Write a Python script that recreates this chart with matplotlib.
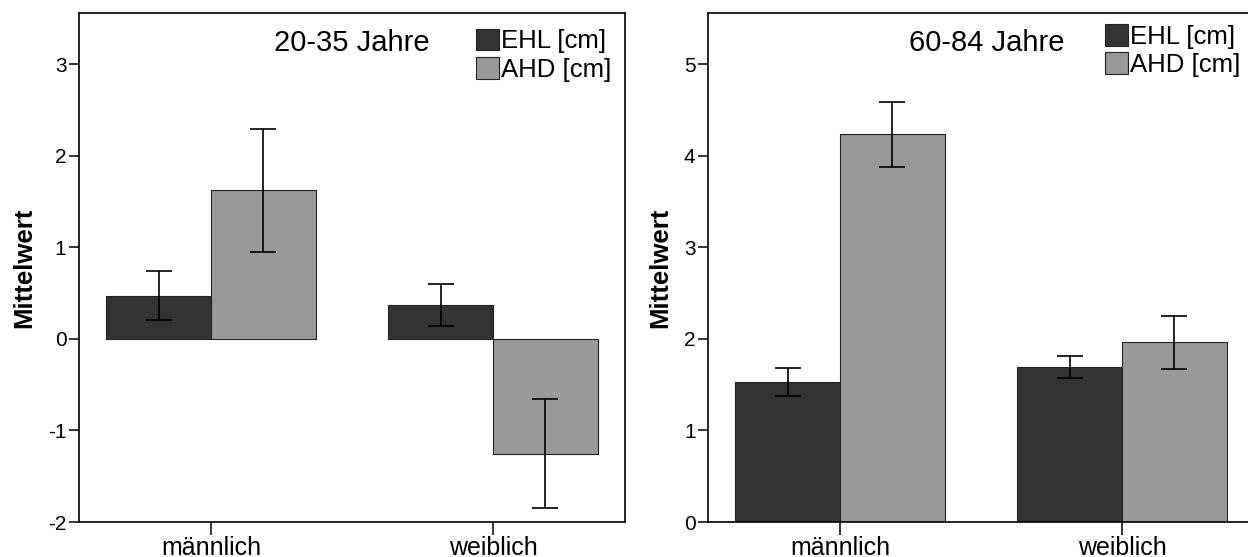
import numpy as np
import matplotlib
matplotlib.use("Agg")
import matplotlib.pyplot as plt
from matplotlib.patches import Patch

plt.rcParams['font.family'] = ['Liberation Sans', 'DejaVu Sans']
plt.rcParams['axes.unicode_minus'] = False

# --- Daten ---
gruppen = ['männlich', 'weiblich']
reihen = ['EHL [cm]', 'AHD [cm]']
farben = ['#333333', '#999999']

# 20-35 Jahre
jung_ehl = [0.47, 0.37]
jung_ehl_unten = [0.20, 0.14]
jung_ehl_oben = [0.74, 0.60]
jung_ahd = [1.62, -1.26]
jung_ahd_unten = [0.95, -1.85]
jung_ahd_oben = [2.29, -0.66]

# 60-84 Jahre
alt_ehl = [1.53, 1.69]
alt_ehl_unten = [1.38, 1.57]
alt_ehl_oben = [1.68, 1.81]
alt_ahd = [4.24, 1.96]
alt_ahd_unten = [3.88, 1.67]
alt_ahd_oben = [4.58, 2.25]


def zeichne_panel(ax, werte, unten, oben, titel, y_min, y_max, yticks,
                  titel_x, legende_y, ylabel_x):
    x = np.arange(len(gruppen))
    breite = 0.372
    versatz = [-breite / 2, breite / 2]

    for i in range(2):
        w = np.array(werte[i])
        fehler = [w - np.array(unten[i]), np.array(oben[i]) - w]
        ax.bar(x + versatz[i], w, breite, color=farben[i],
               edgecolor='#222222', linewidth=0.8, zorder=2)
        ax.errorbar(x + versatz[i], w, yerr=fehler, fmt='none', ecolor='black',
                    elinewidth=1.2, capsize=9.4, capthick=1.2, zorder=3)

    ax.set_xlim(-0.468, 1.468)
    ax.set_ylim(y_min, y_max)
    ax.set_yticks(yticks)
    ax.set_xticks(x)
    ax.set_xticklabels(gruppen, fontsize=18)
    ax.tick_params(axis='y', labelsize=15, length=7, width=1.1, pad=2)
    ax.tick_params(axis='x', length=9, width=1.1, pad=1)
    for s in ax.spines.values():
        s.set_linewidth(1.2)

    ax.text(ylabel_x, 0.5, 'Mittelwert', rotation=90, ha='center', va='center',
            fontsize=18.5, fontweight='bold', transform=ax.transAxes)
    ax.text(titel_x, 0.941, titel, ha='center', va='center', fontsize=21,
            transform=ax.transAxes)

    griffe = [Patch(facecolor=farben[i], edgecolor='#222222', linewidth=0.8)
              for i in range(2)]
    ax.legend(griffe, reihen, loc='upper left', bbox_to_anchor=(0.728, legende_y),
              frameon=False, fontsize=18.5, handlelength=0.86, handleheight=0.92,
              handletextpad=0.1, labelspacing=0.14, borderpad=0, borderaxespad=0)


fig = plt.figure(figsize=(12.48, 5.57), dpi=100)
ax1 = fig.add_axes([79 / 1248, 35 / 557, 546 / 1248, 509 / 557])
ax2 = fig.add_axes([708 / 1248, 35 / 557, 546 / 1248, 509 / 557])

zeichne_panel(ax1, [jung_ehl, jung_ahd], [jung_ehl_unten, jung_ahd_unten],
              [jung_ehl_oben, jung_ahd_oben], '20-35 Jahre', -2, 3.557,
              [-2, -1, 0, 1, 2, 3], 0.5, 0.969, -0.1007)
zeichne_panel(ax2, [alt_ehl, alt_ahd], [alt_ehl_unten, alt_ahd_unten],
              [alt_ehl_oben, alt_ahd_oben], '60-84 Jahre', 0, 5.557,
              [0, 1, 2, 3, 4, 5], 0.51, 0.978, -0.088)

plt.savefig("out.png", dpi=100)
